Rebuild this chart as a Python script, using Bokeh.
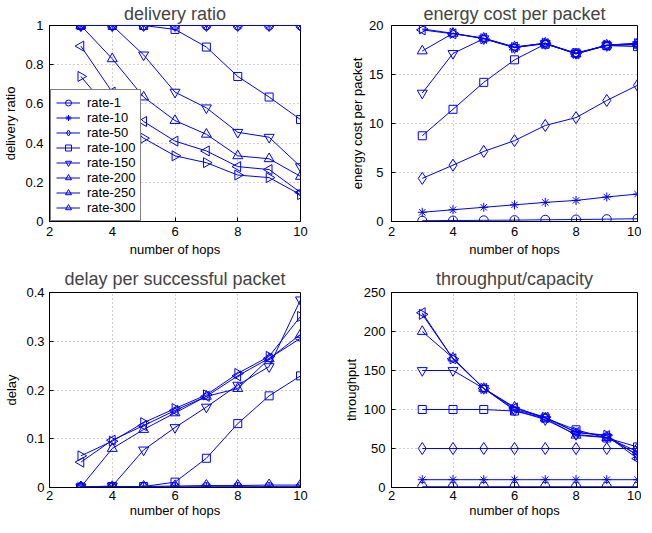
import numpy as np
from bokeh.plotting import figure
from bokeh.layouts import gridplot
from bokeh.models import FixedTicker, Range1d, Legend
from bokeh.embed import file_html
from bokeh.resources import INLINE

hops = [3, 4, 5, 6, 7, 8, 9, 10]
rates = ["rate-1", "rate-10", "rate-50", "rate-100", "rate-150", "rate-200", "rate-250", "rate-300"]

delivery_ratio = {
    "rate-1":   [1, 1, 1, 1, 1, 1, 1, 1],
    "rate-10":  [1, 1, 1, 1, 1, 1, 1, 1],
    "rate-50":  [1, 1, 1, 1, 1, 1, 1, 1],
    "rate-100": [1, 1, 1, 0.98, 0.89, 0.74, 0.635, 0.52],
    "rate-150": [1, 1, 0.85, 0.66, 0.58, 0.455, 0.43, 0.28],
    "rate-200": [1, 0.83, 0.635, 0.515, 0.445, 0.335, 0.32, 0.23],
    "rate-250": [0.895, 0.66, 0.51, 0.41, 0.36, 0.28, 0.265, 0.148],
    "rate-300": [0.74, 0.55, 0.425, 0.335, 0.30, 0.237, 0.224, 0.137],
}

energy_cost = {
    "rate-1":   [0.08, 0.1, 0.12, 0.14, 0.18, 0.2, 0.24, 0.28],
    "rate-10":  [0.94, 1.2, 1.45, 1.7, 1.95, 2.15, 2.5, 2.8],
    "rate-50":  [4.4, 5.75, 7.15, 8.25, 9.8, 10.6, 12.35, 13.9],
    "rate-100": [8.75, 11.45, 14.2, 16.5, 18.1, 17.2, 17.95, 17.85],
    "rate-150": [13.1, 17.15, 18.65, 17.75, 18.15, 17.15, 17.95, 18.05],
    "rate-200": [17.4, 19.2, 18.7, 17.8, 18.2, 17.1, 18.0, 18.2],
    "rate-250": [19.55, 19.15, 18.7, 17.8, 18.15, 17.1, 17.95, 18.1],
    "rate-300": [19.65, 19.2, 18.65, 17.75, 18.2, 17.15, 18.0, 18.15],
}

delay = {
    "rate-1":   [0.0005, 0.0005, 0.0006, 0.0006, 0.0007, 0.0007, 0.0008, 0.0008],
    "rate-10":  [0.001, 0.001, 0.0012, 0.0013, 0.0014, 0.0015, 0.0016, 0.0017],
    "rate-50":  [0.001, 0.0015, 0.002, 0.003, 0.004, 0.004, 0.005, 0.005],
    "rate-100": [0.001, 0.002, 0.002, 0.011, 0.06, 0.131, 0.188, 0.229],
    "rate-150": [0.001, 0.003, 0.077, 0.123, 0.165, 0.21, 0.248, 0.385],
    "rate-200": [0.001, 0.08, 0.119, 0.153, 0.187, 0.203, 0.264, 0.314],
    "rate-250": [0.052, 0.097, 0.127, 0.158, 0.187, 0.229, 0.265, 0.306],
    "rate-300": [0.065, 0.095, 0.133, 0.162, 0.19, 0.234, 0.269, 0.351],
}

throughput = {
    "rate-1":   [1, 1, 1, 1, 1, 1, 1, 1],
    "rate-10":  [10, 10, 10, 10, 10, 10, 10, 10],
    "rate-50":  [50, 50, 50, 50, 50, 50, 50, 50],
    "rate-100": [100, 100, 100, 98, 89, 74, 63.5, 52],
    "rate-150": [150, 150, 127, 99, 87, 68, 64.5, 42],
    "rate-200": [200, 166, 127, 103, 89, 67, 64, 46],
    "rate-250": [224, 165, 127, 102, 90, 70.5, 66.5, 37],
    "rate-300": [222, 165, 127, 100, 90, 71, 67, 41],
}

x_ticks = [2, 4, 6, 8, 10]

# marker style per series: (marker, size, angle)
markers = {
    "rate-1": ("circle", 9, 0.0),
    "rate-10": ("asterisk", 9, 0.0),
    "rate-50": ("diamond", 12, 0.0),
    "rate-100": ("square", 8, 0.0),
    "rate-150": ("inverted_triangle", 10, 0.0),
    "rate-200": ("triangle", 10, 0.0),
    "rate-250": ("triangle", 10, np.pi / 2),
    "rate-300": ("triangle", 10, -np.pi / 2),
}

FONT = "Liberation Sans"
BLUE = "#0000ff"


def make_fig(title, ylabel, data, y_end, y_ticks, label_overrides,
             fw, fh, bl, br, bt, bb, title_standoff, ylabel_standoff, ytick_standoff,
             xtick_standoff, xlabel_standoff):
    p = figure(frame_width=fw, frame_height=fh, output_backend="svg", toolbar_location=None,
               x_range=Range1d(2, 10), y_range=Range1d(0, y_end),
               min_border_left=bl, min_border_right=br, min_border_top=bt, min_border_bottom=bb)
    p.title.text = title
    p.title.text_font = FONT
    p.title.text_font_size = "18px"
    p.title.text_font_style = "normal"
    p.title.align = "center"
    p.title.standoff = title_standoff
    p.outline_line_color = "black"
    p.outline_line_width = 1
    p.background_fill_color = "white"
    p.border_fill_color = "white"

    for ax in (p.xaxis[0], p.yaxis[0]):
        ax.axis_line_color = "black"
        ax.major_tick_line_color = "black"
        ax.major_tick_in = 4
        ax.major_tick_out = 0
        ax.minor_tick_line_color = None
        ax.major_label_text_font = FONT
        ax.major_label_text_font_size = "13px"
        ax.major_label_text_color = "black"
        ax.axis_label_text_font = FONT
        ax.axis_label_text_font_size = "13px"
        ax.axis_label_text_font_style = "normal"
        ax.axis_label_text_color = "black"

    p.xaxis.ticker = FixedTicker(ticks=x_ticks)
    p.yaxis.ticker = FixedTicker(ticks=y_ticks)
    p.xaxis.axis_label = "number of hops"
    p.xaxis.major_label_standoff = xtick_standoff
    p.xaxis.axis_label_standoff = xlabel_standoff
    p.yaxis.axis_label = ylabel
    p.yaxis.major_label_standoff = ytick_standoff
    p.yaxis.axis_label_standoff = ylabel_standoff
    p.yaxis.major_label_overrides = label_overrides

    for g in (p.xgrid[0], p.ygrid[0]):
        g.grid_line_color = "#a0a0a0"
        g.grid_line_dash = "1 3"
        g.grid_line_width = 1

    rends = {}
    for r in rates:
        m, s, a = markers[r]
        ln = p.line(hops, data[r], line_color=BLUE, line_width=1)
        sc = p.scatter(hops, data[r], marker=m, size=s, angle=a,
                       line_color=BLUE, fill_color=None, line_width=1)
        rends[r] = [ln, sc]
    return p, rends


ratio_ticks = [0, 0.2, 0.4, 0.6, 0.8, 1]
p1, r1 = make_fig("delivery ratio", "delivery ratio", delivery_ratio, 1, ratio_ticks,
                  {0: "0", 1: "1"}, 251, 196, 43, 27, 21, 38, 3, 4, 6, 5, 3)
p2, _ = make_fig("energy cost per packet", "energy cost per packet", energy_cost, 20,
                 [0, 5, 10, 15, 20], {}, 246, 196, 64, 4, 21, 38, 3, 1, 8, 5, 3)
p3, _ = make_fig("delay per successful packet", "delay", delay, 0.4,
                 [0, 0.1, 0.2, 0.3, 0.4], {0: "0"}, 251, 195, 43, 27, 33, 34, 7, 4, 5, 3, 0)
p4, _ = make_fig("throughput/capacity", "throughput", throughput, 250,
                 [0, 50, 100, 150, 200, 250], {}, 246, 195, 64, 4, 33, 34, 7, 2, 6, 3, 0)

legend = Legend(items=[(r, r1[r]) for r in rates], location=(1, 0))
legend.label_text_font = FONT
legend.label_text_font_size = "13px"
legend.label_text_color = "black"
legend.glyph_width = 24
legend.glyph_height = 15
legend.label_height = 15
legend.label_standoff = 7
legend.spacing = 0
legend.padding = 5
legend.margin = 0
legend.border_line_color = "black"
legend.border_line_width = 1.5
legend.background_fill_color = "white"
legend.background_fill_alpha = 1
p1.add_layout(legend, "center")

grid = gridplot([[p1, p2], [p3, p4]], toolbar_location=None)

open("out.html", "w").write(file_html(grid, INLINE))
